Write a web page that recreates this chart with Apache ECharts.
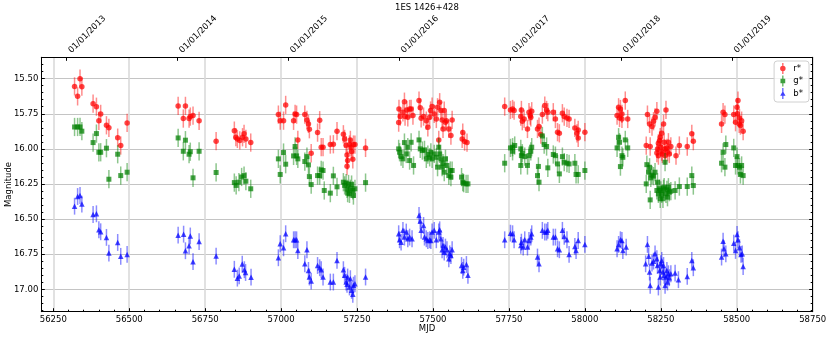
<!DOCTYPE html>
<html><head><meta charset="utf-8">
<script src="https://cdn.jsdelivr.net/npm/echarts@6/dist/echarts.min.js"></script>
<style>html,body{margin:0;padding:0;background:#fff}#c{width:831px;height:338px}</style>
</head><body><div id="c"></div>
<script>
// ---- data (MJD, magnitude) ----
const rPoints = [
[56320,15.555],[56330,15.626],[56338,15.50],[56344,15.557],[56381,15.678],[56392,15.70],[56400,15.80],[56406,15.751],[56425,15.832],[56433,15.85],[56462,15.92],[56472,15.976],[56493,15.815],
[56661,15.694],[56678,15.784],[56685,15.694],[56697,15.784],[56701,15.77],[56710,15.763],[56730,15.80],[56786,15.945],[56846,15.87],[56851,15.917],[56856,15.929],[56864,15.94],[56873,15.917],[56878,15.893],[56884,15.929],[56900,15.955],
[56991,15.756],[56997,15.799],[57008,15.799],[57015,15.687],[57041,15.80],[57046,15.751],[57051,15.756],[57055,15.936],[57078,15.756],[57085,15.794],[57090,15.822],[57093,15.86],[57099,16.031],[57120,15.884],[57127,15.796],[57132,15.988],[57138,15.988],[57162,15.969],[57172,15.967],[57184,15.874],[57205,15.896],[57209,15.929],[57214,15.974],[57217,16.043],[57219,16.083],[57217,16.123],[57225,15.969],[57228,15.936],[57232,16.019],[57236,16.074],[57238,15.969],[57243,15.969],[57230,15.99],[57278,15.993],
[57387,15.813],[57388,15.716],[57392,15.77],[57401,15.74],[57406,15.664],[57408,15.77],[57414,15.723],[57417,15.775],[57423,15.716],[57428,15.716],[57434,15.763],[57454,15.656],[57458,15.708],[57461,15.782],[57469,15.77],[57478,15.799],[57483,15.846],[57489,15.775],[57492,15.727],
[57497,15.699],[57504,15.751],[57511,15.787],[57515,15.704],[57519,15.936],[57522,15.668],[57526,15.727],[57530,15.794],[57533,15.858],[57537,15.727],[57541,15.81],[57544,15.799],[57552,15.858],[57559,15.905],[57563,15.794],[57596,15.929],[57598,15.884],[57604,15.948],[57612,15.955],
[57736,15.699],[57755,15.723],[57762,15.716],[57767,15.727],[57789,15.77],[57791,15.723],[57794,15.803],[57800,15.787],[57811,15.858],[57816,15.739],[57820,15.763],[57822,15.775],[57825,15.732],[57844,15.858],[57849,15.841],[57855,15.898],[57860,15.756],[57868,15.692],[57874,15.723],[57878,15.739],[57896,15.739],[57903,15.787],[57910,15.881],[57916,15.889],[57926,15.746],[57932,15.77],[57941,15.78],[57948,15.787],[57967,15.851],[57974,15.889],[57978,15.922],[57978,15.865],[58000,15.881],
[58106,15.763],[58111,15.704],[58114,15.78],[58117,15.716],[58122,15.751],[58122,15.787],[58133,15.656],[58141,15.787],
[58202,15.976],[58206,15.756],[58213,15.822],[58215,15.983],[58221,15.841],[58226,15.803],[58231,15.775],[58237,15.732],[58239,16.0],[58242,16.048],[58246,15.941],[58248,15.917],[58250,15.988],[58253,15.889],[58255,16.036],[58259,15.822],[58261,15.953],[58264,16.048],[58267,15.723],[58270,15.993],[58272,16.024],[58275,15.953],[58278,16.036],[58283,15.983],[58300,16.048],[58311,15.976],[58337,15.983],[58352,15.893],[58357,15.945],[58237,16.03],[58242,15.96],[58253,16.02],[58264,16.0],
[58450,15.822],[58455,15.739],[58461,15.756],[58490,15.756],[58496,15.81],[58501,15.704],[58504,15.656],[58508,15.822],[58512,15.834],[58516,15.799],[58521,15.874],[58502,15.75],[58509,15.78]
];
const gPoints = [
[56320,15.844],[56330,15.844],[56338,15.844],[56344,15.874],[56381,15.955],[56392,15.891],[56400,16.024],[56406,16.024],[56425,15.995],[56433,16.216],[56462,16.038],[56472,16.19],[56493,16.166],
[56661,15.922],[56678,16.017],[56685,15.938],[56697,16.038],[56701,16.02],[56710,16.206],[56730,16.017],[56786,16.168],[56846,16.24],[56852,16.26],[56861,16.237],[56870,16.20],[56878,16.19],[56884,16.23],[56900,16.284],
[56991,16.071],[56997,16.182],[57008,16.026],[57015,16.109],[57041,16.05],[57046,15.983],[57051,16.05],[57055,16.071],[57078,16.09],[57085,16.055],[57090,16.114],[57093,16.197],[57099,16.254],[57120,16.19],[57127,16.19],[57132,16.149],[57138,16.154],[57142,16.296],[57162,16.315],[57172,16.192],[57184,16.27],[57205,16.237],[57209,16.26],[57214,16.244],[57217,16.284],[57219,16.315],[57222,16.25],[57225,16.32],[57228,16.284],[57232,16.254],[57236,16.296],[57238,16.332],[57243,16.284],[57278,16.24],
[57387,16.0],[57390,16.024],[57395,16.055],[57401,16.071],[57406,15.955],[57412,16.036],[57417,15.988],[57423,16.083],[57428,15.953],[57436,16.118],[57454,15.936],[57458,16.0],[57465,16.012],[57472,16.007],[57478,16.071],[57483,16.04],[57489,16.06],
[57493,16.024],[57497,16.071],[57504,16.036],[57511,16.06],[57515,16.13],[57519,15.988],[57522,16.036],[57526,16.071],[57530,16.13],[57533,16.102],[57537,16.166],[57541,16.071],[57546,16.118],[57552,16.19],[57557,16.154],[57563,16.154],[57559,16.201],[57594,16.201],[57598,16.237],[57601,16.244],[57609,16.249],[57615,16.249],
[57736,16.102],[57755,15.993],[57762,15.988],[57769,15.976],[57762,16.017],[57789,16.0],[57791,16.048],[57794,16.031],[57789,16.118],[57802,16.055],[57811,16.118],[57816,16.048],[57822,16.017],[57825,15.988],[57844,16.19],[57849,16.237],[57847,16.125],[57860,15.908],[57866,15.969],[57874,15.983],[57878,16.135],[57896,16.04],[57903,16.048],[57910,16.107],[57916,16.178],[57926,16.055],[57932,16.095],[57941,16.102],[57948,16.107],[57967,16.102],[57971,16.182],[57978,16.182],[58000,16.154],
[58106,15.993],[58111,15.917],[58114,15.953],[58117,16.126],[58122,16.048],[58125,16.06],[58133,15.936],[58141,15.993],
[58202,16.249],[58204,16.112],[58210,16.166],[58213,16.131],[58215,16.363],[58217,16.206],[58221,16.187],[58226,16.194],[58231,16.166],[58237,16.296],[58239,16.237],[58242,16.32],[58246,16.284],[58248,16.355],[58250,16.296],[58253,16.32],[58257,16.355],[58259,16.284],[58261,16.273],[58264,16.095],[58267,16.32],[58270,16.291],[58272,16.344],[58275,16.273],[58278,16.308],[58283,16.301],[58297,16.296],[58311,16.268],[58337,16.268],[58352,16.19],[58357,16.261],
[58450,16.102],[58455,16.024],[58461,16.13],[58464,15.969],[58490,15.993],[58496,16.118],[58501,16.055],[58504,16.118],[58509,16.13],[58512,16.182],[58516,16.118],[58521,16.19]
];
const bPoints = [
[56320,16.408],[56330,16.339],[56338,16.332],[56344,16.393],[56381,16.467],[56392,16.462],[56400,16.576],[56406,16.59],[56425,16.63],[56433,16.742],[56462,16.666],[56472,16.765],[56493,16.751],
[56661,16.614],[56679,16.607],[56685,16.725],[56697,16.69],[56701,16.62],[56710,16.803],[56730,16.66],[56786,16.763],[56846,16.857],[56856,16.92],[56862,16.904],[56872,16.82],[56879,16.86],[56883,16.88],[56901,16.913],
[56991,16.775],[56997,16.675],[57008,16.704],[57015,16.604],[57041,16.647],[57046,16.647],[57051,16.647],[57055,16.723],[57078,16.818],[57085,16.718],[57090,16.865],[57093,16.912],[57099,16.941],[57120,16.83],[57127,16.846],[57132,16.86],[57138,16.912],[57162,16.948],[57172,16.948],[57184,16.794],[57205,16.86],[57209,16.9],[57214,16.948],[57217,16.964],[57219,16.912],[57225,16.983],[57228,16.924],[57232,17.007],[57236,17.035],[57238,16.97],[57243,16.96],[57278,16.912],
[57387,16.604],[57390,16.647],[57395,16.664],[57401,16.58],[57406,16.628],[57412,16.592],[57417,16.64],[57423,16.628],[57431,16.64],[57454,16.474],[57458,16.514],[57461,16.58],[57469,16.545],[57472,16.628],[57478,16.64],[57483,16.652],[57489,16.647],
[57493,16.652],[57497,16.592],[57504,16.58],[57511,16.647],[57519,16.592],[57522,16.576],[57526,16.64],[57530,16.718],[57533,16.687],[57537,16.735],[57541,16.699],[57546,16.718],[57552,16.782],[57555,16.747],[57559,16.759],[57563,16.718],[57594,16.83],[57598,16.865],[57601,16.842],[57610,16.823],[57615,16.9],
[57736,16.647],[57755,16.6],[57762,16.604],[57767,16.647],[57789,16.687],[57791,16.664],[57797,16.699],[57802,16.647],[57811,16.699],[57816,16.652],[57822,16.628],[57825,16.604],[57844,16.77],[57849,16.818],[57860,16.58],[57868,16.592],[57874,16.592],[57878,16.58],[57896,16.628],[57903,16.628],[57910,16.711],[57916,16.718],[57926,16.58],[57932,16.623],[57941,16.647],[57948,16.751],[57967,16.694],[57971,16.723],[57978,16.652],[58000,16.68],
[58106,16.711],[58111,16.68],[58117,16.647],[58122,16.652],[58125,16.723],[58136,16.699],
[58200,16.818],[58206,16.68],[58210,16.765],[58213,16.877],[58215,16.972],[58221,16.813],[58226,16.799],[58231,16.747],[58237,16.782],[58239,16.83],[58242,16.983],[58246,16.865],[58248,16.912],[58250,16.818],[58253,16.794],[58257,16.877],[58259,16.83],[58261,16.9],[58264,16.972],[58267,16.912],[58270,16.865],[58272,16.948],[58275,16.889],[58278,16.917],[58283,16.889],[58297,16.884],[58308,16.931],[58337,16.908],[58352,16.794],[58357,16.846],
[58450,16.77],[58455,16.657],[58458,16.711],[58464,16.747],[58490,16.671],[58496,16.723],[58501,16.609],[58504,16.647],[58509,16.704],[58514,16.751],[58518,16.747],[58521,16.837]
];
const rErr = 0.065, gErr = 0.065, bErr = 0.06;
const seriesNames = ['r*', 'g*', 'b*'];
const xMajorTicks = [56250,56500,56750,57000,57250,57500,57750,58000,58250,58500,58750];
const yMajorTicks = [15.5,15.75,16.0,16.25,16.5,16.75,17.0];
const dateTickMJD = [56293,56658,57023,57388,57754,58119,58484];
const dateTickLabels = ['01/01/2013','01/01/2014','01/01/2015','01/01/2016','01/01/2017','01/01/2018','01/01/2019'];
const xRange = [56210.5, 58750];
const yRange = [15.348, 17.159];

// ---- derived ----
const xMinorTicks = [];
for (let v = 56250; v <= 58750; v += 50) if (xMajorTicks.indexOf(v) < 0) xMinorTicks.push(v);
const yMinorTicks = [];
for (let i = Math.ceil(yRange[0] / 0.05); i * 0.05 <= yRange[1]; i++) {
  const v = +(i * 0.05).toFixed(2);
  if (yMajorTicks.indexOf(v) < 0) yMinorTicks.push(v);
}
const FONT = 'DejaVu Sans';
const colors = ['#ff0000', '#008000', '#0000ff'];
const symbols = ['circle', 'rect', 'triangle'];
const legendIcons = [
  'path://M4.4,0H5.6V12H4.4Z M8,6A3,3 0 1 1 2,6A3,3 0 1 1 8,6Z',
  'path://M4.4,0H5.6V12H4.4Z M2.4,3.6H7.6V8.4H2.4Z',
  'path://M4.4,0H5.6V12H4.4Z M5,3.2L7.9,8.4H2.1Z'
];
const pts = [rPoints, gPoints, bPoints];
const errs = [rErr, gErr, bErr];

const chart = echarts.init(document.getElementById('c'), null, {renderer: 'canvas'});
const baseX = {type: 'value', min: xRange[0], max: xRange[1], gridIndex: 0};
const baseY = {type: 'value', min: yRange[0], max: yRange[1], inverse: true, gridIndex: 0};
const series = [];
for (let k = 0; k < 3; k++) {
  const e = errs[k];
  series.push({
    type: 'custom', name: seriesNames[k], z: 3 + k * 2,
    data: pts[k].map(p => [p[0], p[1], e]),
    encode: {x: 0, y: 1},
    renderItem: function (params, api) {
      const x = api.value(0), y = api.value(1), er = api.value(2);
      const a = api.coord([x, y - er]), b = api.coord([x, y + er]);
      return {type: 'line', shape: {x1: a[0], y1: a[1], x2: b[0], y2: b[1]},
        style: {stroke: colors[k], lineWidth: 1.5, opacity: 0.45}};
    },
    silent: true
  });
  series.push({
    type: 'scatter', name: seriesNames[k], z: 4 + k * 2,
    data: pts[k], symbol: symbols[k], symbolSize: k === 1 ? 5 : 5.5,
    itemStyle: {color: colors[k], opacity: 0.72},
    silent: true
  });
}

const option = {
  animation: false,
  backgroundColor: '#fff',
  textStyle: {fontFamily: FONT},
  title: {text: '1ES 1426+428', left: 395, top: 3, padding: 0,
    textStyle: {fontFamily: FONT, fontSize: 8.5, fontWeight: 'normal', color: '#000'}},
  legend: {
    orient: 'vertical', right: 22, top: 61,
    data: seriesNames.map((n, i) => ({name: n, icon: legendIcons[i], itemStyle: {color: colors[i], opacity: 0.75}})),
    itemWidth: 11, itemHeight: 11, itemGap: 1.5, itemTextGap: 8,
    padding: [2, 6, 3, 6],
    borderColor: '#d0d0d0', borderWidth: 1, borderRadius: 3, backgroundColor: 'rgba(255,255,255,0.8)',
    textStyle: {fontFamily: FONT, fontSize: 8.5, color: '#000'},
    selectedMode: false
  },
  grid: {left: 41.3, right: 18.3, top: 57.3, bottom: 26.3, containLabel: false, outerBoundsMode: 'none'},
  xAxis: [
    Object.assign({}, baseX, {
      position: 'bottom', name: 'MJD', nameLocation: 'middle', nameGap: 13, nameMoveOverlap: false,
      nameTextStyle: {fontFamily: FONT, fontSize: 8.5, color: '#000'},
      axisLine: {show: true, lineStyle: {color: '#000', width: 1}},
      axisTick: {show: true, inside: true, length: 3.5, customValues: xMajorTicks, lineStyle: {color: '#000'}},
      axisLabel: {show: true, customValues: xMajorTicks, margin: 4, color: '#000', fontFamily: FONT, fontSize: 8.5,
        formatter: v => String(v)},
      splitLine: {show: true, lineStyle: {color: '#dadada', width: 1.6}},
      minorTick: {show: false}, minorSplitLine: {show: false}
    }),
    Object.assign({}, baseX, {
      position: 'bottom',
      axisLine: {show: false},
      axisTick: {show: true, inside: true, length: 2, customValues: xMinorTicks, lineStyle: {color: '#000'}},
      axisLabel: {show: false}, splitLine: {show: false}
    }),
    Object.assign({}, baseX, {
      position: 'top',
      axisLine: {show: true, lineStyle: {color: '#000', width: 1}},
      axisTick: {show: true, inside: true, length: 3.5, customValues: dateTickMJD, lineStyle: {color: '#000'}},
      axisLabel: {show: true, customValues: dateTickMJD, rotate: -45, margin: 2, padding: [0, 0, 0, 5],
        color: '#000', fontFamily: FONT, fontSize: 8.5,
        formatter: v => { const i = dateTickMJD.indexOf(Math.round(v)); return i >= 0 ? dateTickLabels[i] : ''; }},
      splitLine: {show: false}
    })
  ],
  yAxis: [
    Object.assign({}, baseY, {
      position: 'left', name: 'Magnitude', nameLocation: 'middle', nameGap: 28, nameRotate: 90, nameMoveOverlap: false,
      nameTextStyle: {fontFamily: FONT, fontSize: 8.5, color: '#000'},
      axisLine: {show: true, lineStyle: {color: '#000', width: 1}},
      axisTick: {show: true, inside: true, length: 3.5, customValues: yMajorTicks, lineStyle: {color: '#000'}},
      axisLabel: {show: true, customValues: yMajorTicks, margin: 3, color: '#000', fontFamily: FONT, fontSize: 8.5,
        formatter: v => v.toFixed(2)},
      splitLine: {show: true, lineStyle: {color: '#c4c4c4', width: 1}}
    }),
    Object.assign({}, baseY, {
      position: 'left', axisLine: {show: false},
      axisTick: {show: true, inside: true, length: 2, customValues: yMinorTicks, lineStyle: {color: '#000'}},
      axisLabel: {show: false}, splitLine: {show: false}
    }),
    Object.assign({}, baseY, {
      position: 'right', axisLine: {show: true, lineStyle: {color: '#000', width: 1}},
      axisTick: {show: true, inside: true, length: 3.5, customValues: yMajorTicks, lineStyle: {color: '#000'}},
      axisLabel: {show: false}, splitLine: {show: false}
    }),
    Object.assign({}, baseY, {
      position: 'right', axisLine: {show: false},
      axisTick: {show: true, inside: true, length: 2, customValues: yMinorTicks, lineStyle: {color: '#000'}},
      axisLabel: {show: false}, splitLine: {show: false}
    })
  ],
  series: series
};
chart.setOption(option);
</script>
</body></html>
